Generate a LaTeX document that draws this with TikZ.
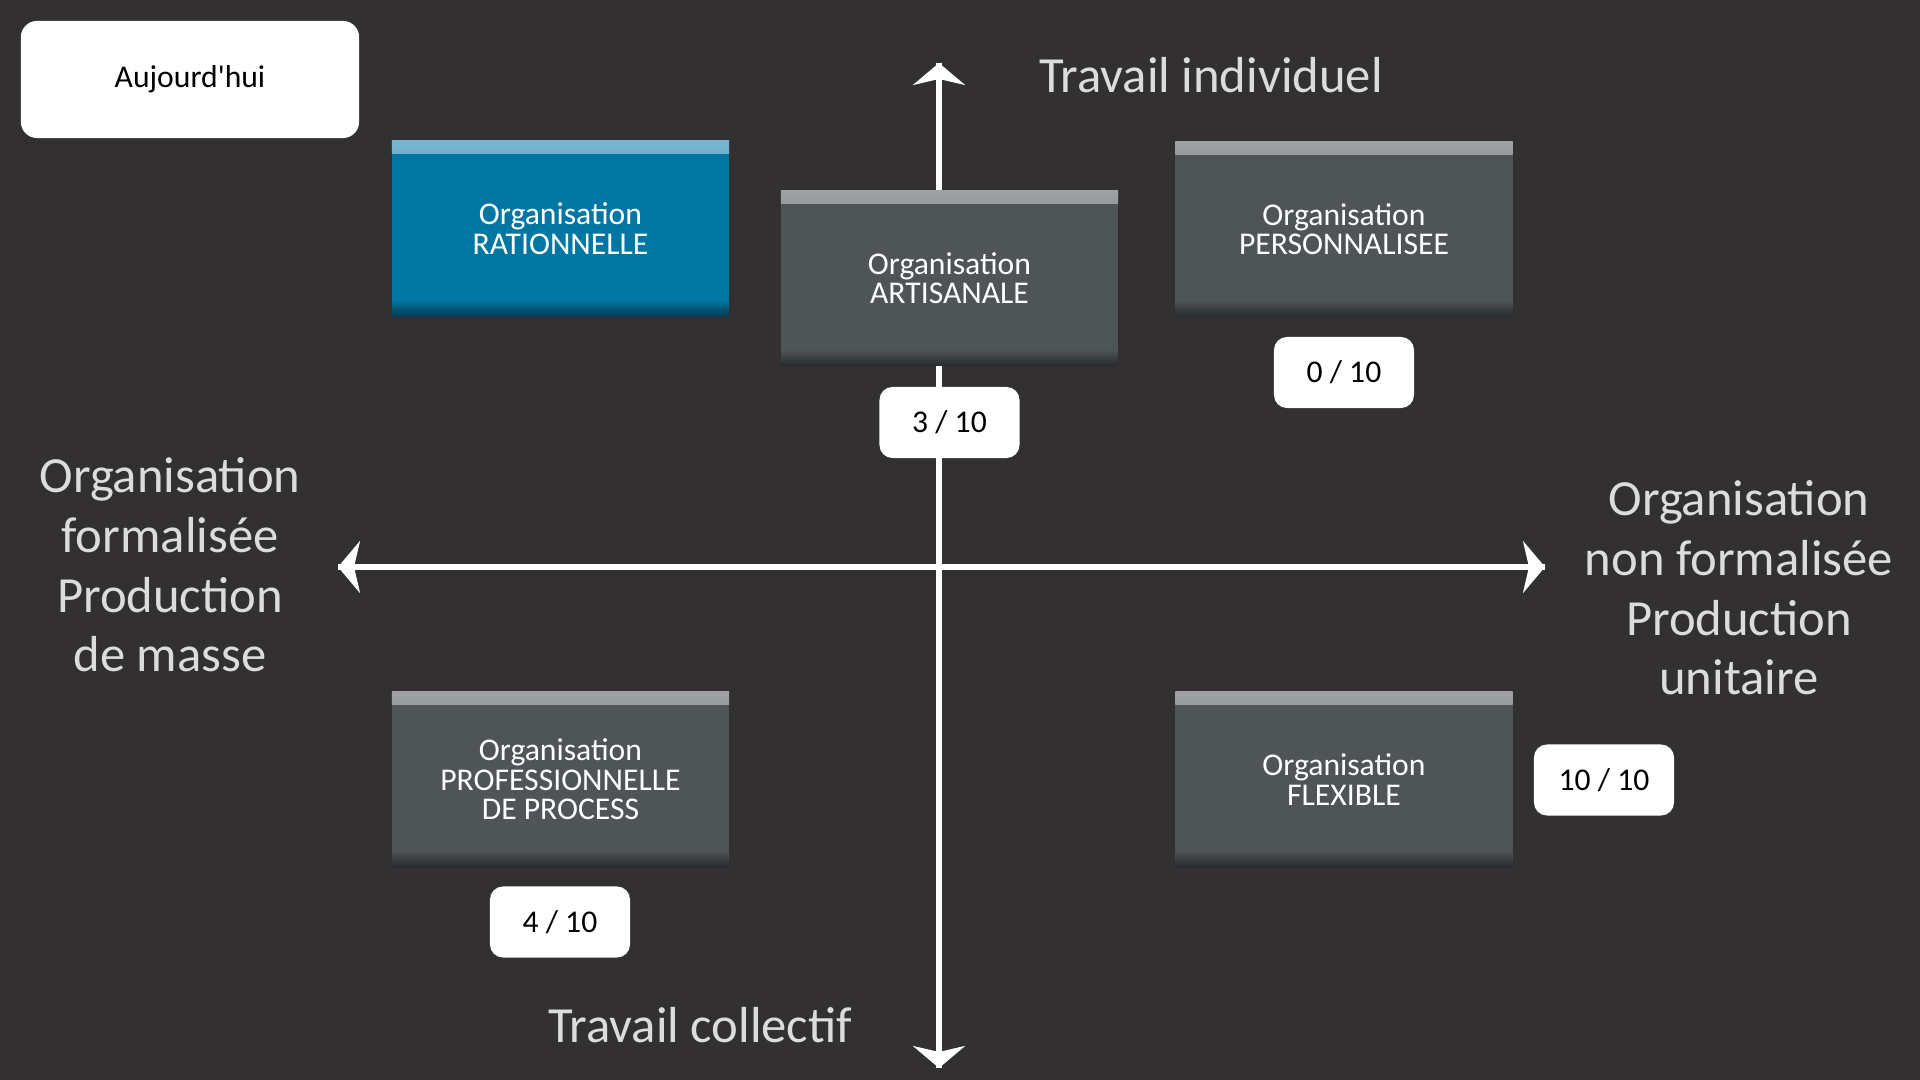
\documentclass[tikz,border=0pt]{standalone}
\usepackage{fontspec}
\setmainfont{Carlito}
\usepackage{tikz}
\usetikzlibrary{arrows.meta}
\definecolor{bgdark}{HTML}{323031}
\definecolor{boxgray}{HTML}{4F5457}
\definecolor{boxgraytop}{HTML}{9EA1A3}
\definecolor{boxgraylow}{HTML}{272B2E}
\definecolor{boxblue}{HTML}{0077A3}
\definecolor{boxbluetop}{HTML}{78B6CE}
\definecolor{boxbluelow}{HTML}{053B54}
\definecolor{axislabel}{HTML}{DCDCDC}

\tikzset{
	orgbox/.style n args={3}{
		minimum width=3.37cm, minimum height=1.75cm, inner sep=0pt,
		fill=#1, text=white, align=center,
		font=\fontsize{9pt}{8.4pt}\selectfont,
		path picture={
			\fill[top color=#2, bottom color=#1]
				(path picture bounding box.north west) rectangle
				([yshift=-0.13cm]path picture bounding box.north east);
			\fill[bottom color=#3, top color=#1]
				(path picture bounding box.south west) rectangle
				([yshift=0.16cm]path picture bounding box.south east);
		}
	},
	graybox/.style={orgbox={boxgray}{boxgraytop}{boxgraylow}},
	bluebox/.style={orgbox={boxblue}{boxbluetop}{boxbluelow}},
	score/.style={fill=white, rounded corners=0.13cm, text=black,
		minimum width=1.4cm, minimum height=0.71cm, inner sep=0pt,
		font=\fontsize{9pt}{10pt}\selectfont},
	axis/.style={white, line width=0.065cm,
		-{Stealth[width=0.52cm, length=0.22cm, inset=0.06cm]}},
	axistext/.style={text=axislabel, align=center,
		font=\fontsize{14.4pt}{17pt}\selectfont}
}

\begin{document}
\begin{tikzpicture}[x=0.01cm, y=-0.01cm]
	% background
	\fill[bgdark] (0,0) rectangle (1920,1080);
	\useasboundingbox (0,0) rectangle (1920,1080);

	% axes
	\coordinate (top) at (939,63);
	\coordinate (bottom) at (939,1068);
	\coordinate (left) at (338,567);
	\coordinate (right) at (1545,567);
	\draw[axis] (bottom) -- (top);
	\draw[axis] (top) -- (bottom);
	\draw[axis] (left) -- (right);
	\draw[axis] (right) -- (left);

	% axis labels
	\node[axistext] (indiv) at (1211,75) {Travail individuel};
	\node[axistext] (collect) at (700,1025) {Travail collectif};
	\node[axistext] (formal) at (170,565) {Organisation\\formalisée\\Production\\de masse};
	\node[axistext] (nonformal) at (1739,588) {Organisation\\non formalisée\\Production\\unitaire};

	% today
	\node[score, minimum width=3.38cm, minimum height=1.17cm, rounded corners=0.16cm] (today) at (190,79.5) {Aujourd\textquotesingle hui};

	% organisations
	\node[bluebox] (ration) at (560.5,228.5) {Organisation\\RATIONNELLE};
	\node[graybox] (artisan) at (949.5,278) {Organisation\\ARTISANALE};
	\node[graybox] (perso) at (1344,229) {Organisation\\PERSONNALISEE};
	\node[graybox] (process) at (560.5,779.5) {Organisation\\PROFESSIONNELLE\\DE PROCESS};
	\node[graybox] (flex) at (1344,779.5) {Organisation\\FLEXIBLE};

	% scores
	\node[score] (sperso) at (1344,372.5) {0 / 10};
	\node[score] (sartisan) at (949.5,422.5) {3 / 10};
	\node[score] (sprocess) at (560,922) {4 / 10};
	\node[score] (sflex) at (1604,780) {10 / 10};
\end{tikzpicture}
\end{document}
